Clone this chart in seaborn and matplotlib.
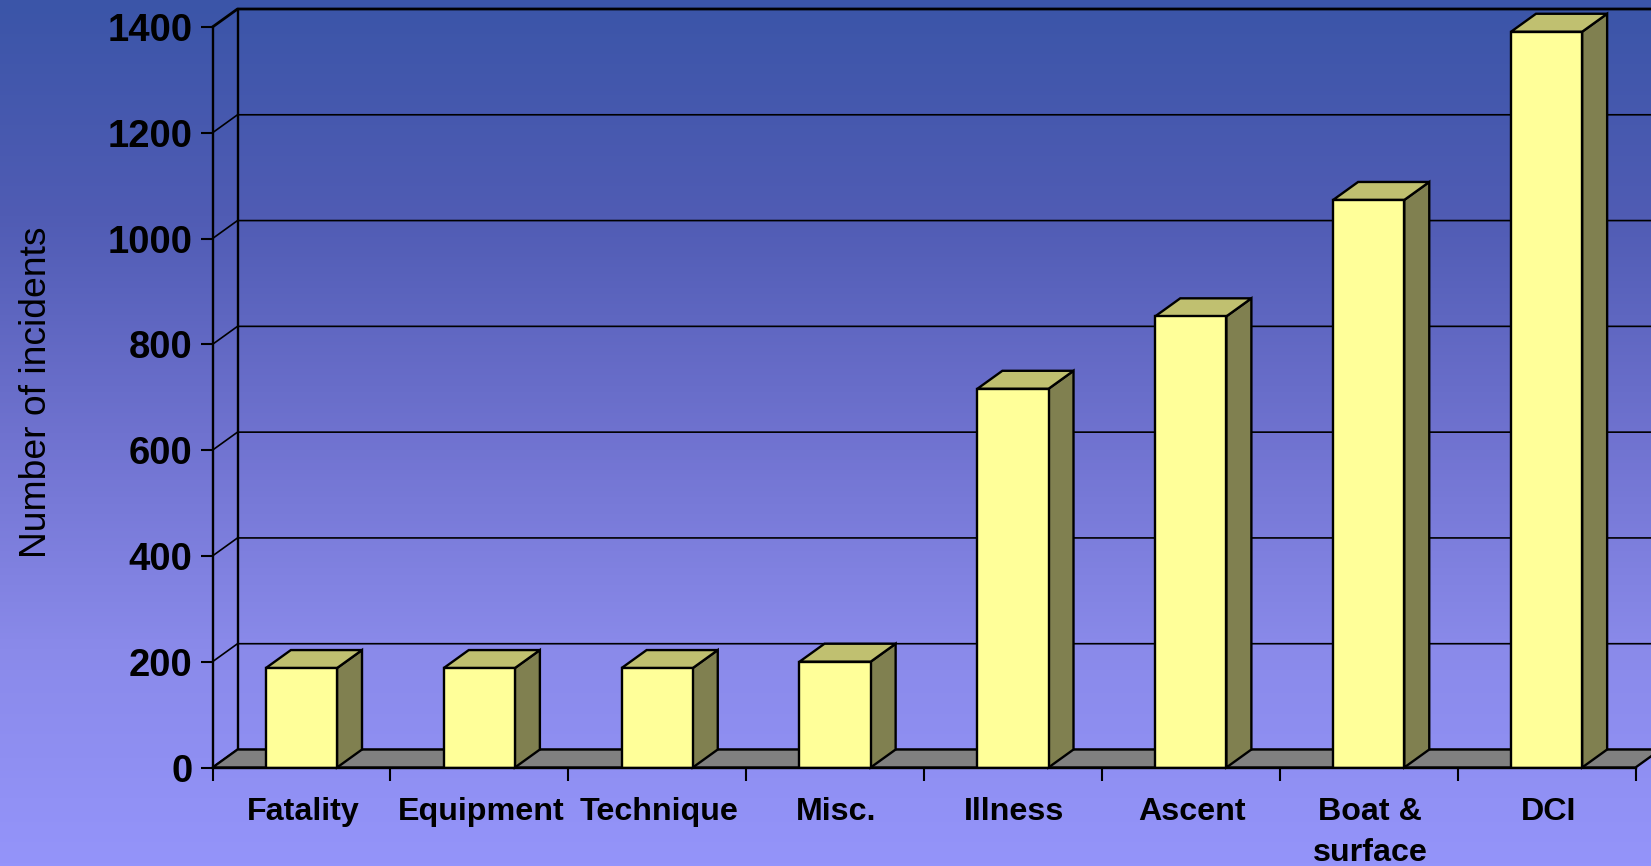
import numpy as np
import pandas as pd
import matplotlib
matplotlib.use("Agg")
import matplotlib.pyplot as plt
import seaborn as sns
from matplotlib.colors import LinearSegmentedColormap
from matplotlib.patches import Polygon
from matplotlib.transforms import IdentityTransform, ScaledTranslation

categories = ["Fatality", "Equipment", "Technique", "Misc.", "Illness", "Ascent", "Boat &\nsurface", "DCI"]
incidents = [188, 188, 188, 200, 716, 853, 1073, 1391]
y_ticks = [0, 200, 400, 600, 800, 1000, 1200, 1400]

W, H = 1651, 866
DX, DY = 25, 18  # fake 3d depth, pixels

sns.set_theme(style="white")
plt.rcParams['font.family'] = ['Liberation Sans', 'DejaVu Sans']

fig = plt.figure(figsize=(W / 100, H / 100), dpi=100)

# gradient background
bg = fig.add_axes([0, 0, 1, 1], zorder=0)
cmap = LinearSegmentedColormap.from_list("bg", ["#3b55a8", "#505cb4", "#6f72cf", "#8a8aea", "#9494fa"])
bg.imshow(np.linspace(0, 1, 256).reshape(-1, 1), aspect="auto", cmap=cmap)
bg.axis("off")

ax = fig.add_axes([212.5 / W, 1 - 767.5 / H, (1635.5 - 212.5) / W, (767.5 - 27) / H], zorder=1)
ax.patch.set_alpha(0)

df = pd.DataFrame({"category": categories, "incidents": incidents})
sns.barplot(data=df, x="category", y="incidents", color="#ffff99", saturation=1, width=0.4,
            edgecolor="black", linewidth=1.7, zorder=5, ax=ax)
bars = list(ax.patches)

ax.set_xlim(-0.5, 7.5)
ax.set_ylim(0, 1400)
ax.set_xlabel("")
ax.set_ylabel("")


def to_px(x, y):
    return ax.transData.transform((x, y))


def add_poly(points, color, zorder):
    ax.add_patch(Polygon(points, closed=True, facecolor=color, edgecolor="black", linewidth=1.7,
                         transform=IdentityTransform(), clip_on=False, zorder=zorder))


# back wall lines and floor
for val in y_ticks:
    x0, y0 = to_px(-0.5, val)
    lw = 2 if val == 1400 else 1.2
    ax.plot([x0, x0 + DX, W + 5], [y0, y0 + DY, y0 + DY], color="black", lw=lw,
            transform=IdentityTransform(), clip_on=False, zorder=2)
x0, y0 = to_px(-0.5, 0)
x1, y1 = to_px(7.5, 0)
add_poly([(x0, y0), (x0 + DX, y0 + DY), (x1 + DX, y1 + DY), (x1, y1)], "#808080", 3)
xt, yt = to_px(-0.5, 1400)
ax.plot([x0 + DX, xt + DX], [y0 + DY, yt + DY], color="black", lw=1.7,
        transform=IdentityTransform(), clip_on=False, zorder=2)

# side and top of each bar
for bar in bars:
    left, right = bar.get_x(), bar.get_x() + bar.get_width()
    top = bar.get_height()
    lx, ty = to_px(left, top)
    rx, by = to_px(right, 0)
    add_poly([(rx, by), (rx + DX, by + DY), (rx + DX, ty + DY), (rx, ty)], "#808050", 4)
    add_poly([(lx, ty), (lx + DX, ty + DY), (rx + DX, ty + DY), (rx, ty)], "#c0c070", 4)

# ticks sit between categories, labels in the middle
ax.set_xticks(np.arange(-0.5, 8, 1))
ax.set_xticklabels([])
ax.set_xticks(range(len(categories)), categories, minor=True)
ax.tick_params(axis="x", which="major", length=9, width=1.5, color="black", bottom=True)
ax.tick_params(axis="x", which="minor", length=0, pad=21.5, labelsize=23.2, labelcolor="black", bottom=False)
shift = ScaledTranslation(1.5 / 100, 0, fig.dpi_scale_trans)
for lab in ax.get_xticklabels(minor=True):
    lab.set_fontweight("bold")
    lab.set_linespacing(1.48)
    lab.set_transform(lab.get_transform() + shift)

ax.set_yticks(y_ticks)
ax.tick_params(axis="y", length=9, width=1.5, color="black", left=True, pad=5.5, labelsize=27.5, labelcolor="black")
for lab in ax.get_yticklabels():
    lab.set_fontweight("bold")

sns.despine(ax=ax)
for side in ["left", "bottom"]:
    ax.spines[side].set_color("black")
    ax.spines[side].set_linewidth(1.7)
    ax.spines[side].set_zorder(6)

fig.text(36 / W, 1 - 392 / H, "Number of incidents", rotation=90, fontsize=26.8, color="black",
         ha="center", va="center")

fig.savefig("out.png", dpi=100)
